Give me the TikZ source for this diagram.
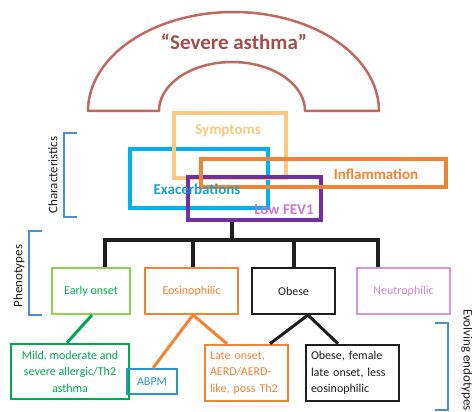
\documentclass[tikz,border=0pt]{standalone}
\usepackage{fontspec}
\setmainfont{Carlito}
\usetikzlibrary{calc}
\definecolor{archc}{RGB}{192,104,98}
\definecolor{archt}{RGB}{160,78,78}
\definecolor{sympc}{RGB}{250,200,130}
\definecolor{exac}{RGB}{0,176,240}
\definecolor{exat}{RGB}{26,160,200}
\definecolor{inflc}{RGB}{245,130,50}
\definecolor{fevc}{RGB}{112,48,160}
\definecolor{fevt}{RGB}{204,120,200}
\definecolor{eoc}{RGB}{146,208,80}
\definecolor{eot}{RGB}{0,176,80}
\definecolor{neuc}{RGB}{213,150,210}
\definecolor{neut}{RGB}{208,135,205}
\definecolor{greenc}{RGB}{0,168,80}
\definecolor{abpmc}{RGB}{40,150,200}
\definecolor{brk}{RGB}{74,144,208}
\definecolor{blk}{RGB}{30,30,30}
\begin{document}
\begin{tikzpicture}[x=1pt,y=-1pt,
  box/.style={draw, rectangle, inner sep=0pt},
  charbox/.style={box, line width=4pt},
  phenbox/.style={box, line width=2pt, minimum height=46pt, font=\fontsize{12}{14}\selectfont},
  endobox/.style={box, line width=2.5pt, font=\fontsize{12}{16.5}\selectfont},
  bigtext/.style={font=\fontsize{15}{18}\selectfont\bfseries, inner sep=0pt},
  tree/.style={line width=4pt, draw=blk},
  conn/.style={line width=3pt},
  brack/.style={line width=2pt, draw=brk},
  sidelabel/.style={font=\fontsize{13}{15}\selectfont, text=blk, inner sep=0pt}]
\useasboundingbox (0,0) rectangle (472,412);
\fill[white] (0,0) rectangle (472,412);

% arch
\draw[archc, line width=2.5pt, line join=round]
  plot[domain=180:0, samples=90] ({233.5+145.5*cos(\x)},{111-99*sin(\x)})
  -- (305,111)
  -- plot[domain=0:180, samples=90] ({232+73*cos(\x)},{111-49*sin(\x)})
  -- cycle;
\node[font=\fontsize{21}{24}\selectfont\bfseries, text=archt] (sev) at (234,42) {“Severe asthma”};

% characteristics boxes
\node[charbox, draw=exac, line width=4.5pt, minimum width=138pt, minimum height=59pt] (exa) at (199,178.5) {};
\node[charbox, draw=sympc, minimum width=112pt, minimum height=65pt] (sym) at (230,145.5) {};
\node[charbox, draw=fevc, line width=3.5pt, minimum width=133pt, minimum height=43pt] (fev) at (254.5,198.5) {};
\node[charbox, draw=inflc, minimum width=245pt, minimum height=28pt] (infl) at (323.5,173) {};

\node[bigtext, text=sympc] (symt) at (228,131) {Symptoms};
\node[bigtext, text=exat] (exat) at (197,189) {Exacerbations};
\node[bigtext, text=inflc] (inflt) at (376,174) {Inflammation};
\node[bigtext, text=fevt] (fevt) at (284,210) {Low FEV1};

% phenotypes
\node[phenbox, draw=eoc, text=eot, minimum width=78pt] (p1) at (91,291) {Early onset};
\node[phenbox, draw=inflc, text=inflc, minimum width=93pt] (p2) at (191.5,291) {Eosinophilic};
\node[phenbox, draw=blk, text=blk, minimum width=83pt] (p3) at (293.5,291) {Obese};
\node[phenbox, draw=neuc, text=neut, minimum width=93pt] (p4) at (403.5,291) {Neutrophilic};

% tree
\coordinate (j0) at (232,240);
\coordinate (d1) at (105,240);
\coordinate (d2) at (193,240);
\coordinate (d3) at (294,240);
\coordinate (d4) at (378,240);
\draw[tree] (fev.south -| j0) -- (j0);
\draw[tree, line join=miter] (p1.north -| d1) -- (d1) -- (d4) -- (p4.north -| d4);
\draw[tree] (d2) -- (p2.north -| d2);
\draw[tree] (d3) -- (p3.north -| d3);

% endotypes
\node[endobox, draw=greenc, text=greenc, minimum width=118pt, minimum height=55pt, align=center] (e1) at (70,371.5) {Mild, moderate and\\severe allergic/Th2\\asthma};
\node[endobox, draw=abpmc, text=abpmc, line width=2pt, minimum width=50pt, minimum height=25pt] (e2) at (152,381.5) {ABPM};
\node[endobox, draw=inflc, text=inflc, minimum width=83pt, minimum height=56pt, text width=73pt, align=left] (e3) at (246.5,373) {Late onset,\\AERD/AERD-\\like, poss Th2};
\node[endobox, draw=blk, text=blk, minimum width=93pt, minimum height=56pt, text width=83pt, align=left] (e4) at (352.5,373) {Obese, female\\late onset, less\\eosinophilic};

% connectors
\draw[conn, greenc] ([xshift=1pt]p1.south) -- ([xshift=-3pt]e1.north);
\draw[conn, inflc] ([xshift=1.5pt]p2.south) -- ([xshift=1pt]e2.north);
\draw[conn, inflc] ([xshift=1.5pt]p2.south) -- ([xshift=-19.5pt]e3.north);
\draw[conn, blk] ([xshift=14.5pt]p3.south) -- ([xshift=23.5pt]e3.north);
\draw[conn, blk] ([xshift=14.5pt]p3.south) -- ([xshift=-14.5pt]e4.north);

% brackets and side labels
\draw[brack] (77,133) -- (64,133) -- (64,217) -- (77,217);
\node[sidelabel, rotate=90] (lchar) at (53,175) {Characteristics};
\draw[brack] (42,231) -- (29,231) -- (29,315) -- (42,315);
\node[sidelabel, rotate=90] (lphen) at (19,276) {Phenotypes};
\draw[brack] (435,323) -- (448,323) -- (448,410) -- (435,410);
\node[sidelabel, rotate=-90] (lendo) at (467,360) {Evolving endotypes};
\end{tikzpicture}
\end{document}
